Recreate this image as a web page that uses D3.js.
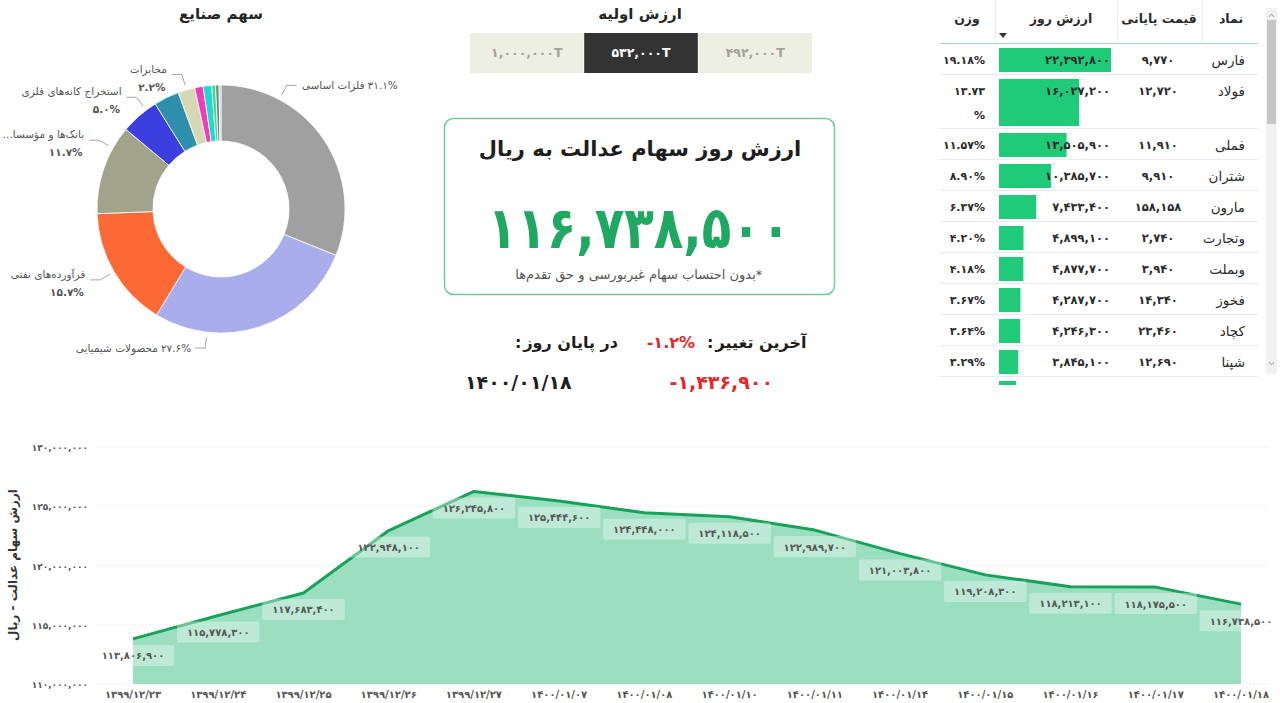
<!DOCTYPE html>
<html>
<head>
<meta charset="utf-8">
<script src="https://cdn.jsdelivr.net/npm/d3@7"></script>
<style>
  body { margin: 0; background: #fff; }
  svg { display: block; font-family: 'DejaVu Sans', sans-serif; }
</style>
</head>
<body>
<div id="dashboard"></div>
<script>
// industry share (donut)
const industryNames = [
  'فلزات اساسی', 'محصولات شیمیایی', 'فرآورده‌های نفتی', 'بانک‌ها و مؤسسات اعتباری',
  'استخراج کانه‌های فلزی', 'چند رشته‌ای صنعتی', 'مخابرات', 'خودرو و ساخت قطعات',
  'سیمان، آهک و گچ', 'حمل و نقل', 'بیمه', 'سایر',
];
const industryShares = [31.1, 27.6, 15.7, 11.7, 5.0, 3.3, 2.2, 1.1, 1.1, 0.5, 0.45, 0.25];

// initial value buttons
const initialValues = [1000000, 532000, 492000];
const selectedInitial = 532000;

// headline numbers
const currentValue = 116738500;
const lastChangePct = -1.2;
const lastChange = -1436900;
const lastDate = '1400/01/18';

// holdings table
const symbols = ['فارس', 'فولاد', 'فملی', 'شتران', 'مارون', 'وتجارت', 'وبملت', 'فخوز', 'کچاد', 'شپنا', 'شستا'];
const closePrices = [9770, 12720, 11910, 9910, 158158, 2740, 3940, 14340, 23460, 12690, 1050];
const dayValues = [22392800, 16027200, 13505900, 10385700, 7433400, 4899100, 4877700, 4287700, 4246300, 3845100, 3400000];
const weights = [19.18, 13.73, 11.57, 8.90, 6.37, 4.20, 4.18, 3.67, 3.64, 3.29, 2.91];

// daily value series
const dates = [
  '1399/12/23', '1399/12/24', '1399/12/25', '1399/12/26', '1399/12/27', '1400/01/07', '1400/01/08',
  '1400/01/10', '1400/01/11', '1400/01/14', '1400/01/15', '1400/01/16', '1400/01/17', '1400/01/18',
];
const fundValues = [
  113806900, 115778300, 117683400, 122948100, 126245800, 125444600, 124448000,
  124118500, 122989700, 121003800, 119208300, 118213100, 118175500, 116738500,
];
const yTicks = [110000000, 115000000, 120000000, 125000000, 130000000];

// ---- helpers
const faDigits = '۰۱۲۳۴۵۶۷۸۹';
const fa = (s) => String(s).replace(/\d/g, (d) => faDigits[d]);
const comma = d3.format(',');
const faNum = (v) => (v < 0 ? '-' : '') + fa(comma(Math.abs(v)));

// shift a text so its drawn right edge sits on xr
function alignRight(text, xr) {
  const b = text.node().getBBox();
  text.attr('x', +text.attr('x') + (xr - (b.x + b.width)));
  return text;
}

// pieces laid out right-to-left as separate texts, so no bidi guessing.
// align: 'right' | 'left' | 'middle' relative to x
function rtlText(parent, x, y, pieces, style, align = 'right', gap = 3) {
  const g = parent.append('g');
  let cur = 0;
  pieces.forEach((p) => {
    const t = g.append('text').attr('x', 0).attr('y', y).text(p);
    style(t);
    alignRight(t, cur);
    cur = t.node().getBBox().x - gap;
  });
  const b = g.node().getBBox();
  let dx = x - (b.x + b.width);
  if (align === 'left') dx = x - b.x;
  if (align === 'middle') dx = x - (b.x + b.width / 2);
  g.attr('transform', `translate(${dx},0)`);
  return g;
}

const W = 1280;
const H = 703;
const svg = d3.select('#dashboard').append('svg')
  .attr('width', W)
  .attr('height', H);

// ================= donut =================
function drawDonut() {
  const cx = 221;
  const cy = 209;
  const R = 124;
  const r = 68;
  const colors = ['#a0a0a0', '#a9adeb', '#fb6a35', '#a1a38b', '#3b3fe0', '#2d8fab',
    '#d6d8b5', '#ef3cb8', '#22d6d2', '#2de38f', '#8c7c70', '#85d3f0'];
  // which slices carry a label, where along the slice and how it is laid out
  const labels = [
    { i: 0, at: 0.25, mode: 'inline', dir: 1 },
    { i: 1, at: 0.75, mode: 'inline', dir: -1 },
    { i: 2, at: 0.5, mode: 'stack' },
    { i: 3, at: 0.75, mode: 'stack', maxChars: 15 },
    { i: 4, at: 0.72, mode: 'stack' },
    { i: 6, at: 0.5, mode: 'stack' },
  ];

  svg.append('text')
    .attr('x', cx).attr('y', 19)
    .attr('text-anchor', 'middle')
    .attr('font-size', 15).attr('font-weight', 'bold').attr('fill', '#252525')
    .text('سهم صنایع');

  const pie = d3.pie().sort(null).value((d) => d);
  const arcs = pie(industryShares);
  const arc = d3.arc().innerRadius(r).outerRadius(R);

  const g = svg.append('g').attr('transform', `translate(${cx},${cy})`);
  g.selectAll('path.slice')
    .data(arcs)
    .enter().append('path')
    .attr('class', 'slice')
    .attr('d', arc)
    .attr('fill', (d, i) => colors[i])
    .attr('stroke', '#fff')
    .attr('stroke-width', 0.8);

  const pt = (a, rad) => [Math.sin(a) * rad, -Math.cos(a) * rad];
  const small = (t) => t.attr('font-size', 10.5).attr('fill', '#555');
  const smallBold = (t) => small(t).attr('font-weight', 'bold');

  labels.forEach((l) => {
    const a = arcs[l.i];
    const ang = a.startAngle + (a.endAngle - a.startAngle) * l.at;
    const p0 = pt(ang, R + 5);
    const p1 = pt(ang, R + 16);
    const dir = l.mode === 'stack' ? -1 : l.dir;
    const p2 = [p1[0] + dir * 10, p1[1]];
    g.append('polyline')
      .attr('points', [p0, p1, p2].map((p) => p.join(',')).join(' '))
      .attr('fill', 'none')
      .attr('stroke', '#a6a6a6')
      .attr('stroke-width', 1);

    let name = [industryNames[l.i]];
    if (l.maxChars && industryNames[l.i].length > l.maxChars) {
      name = [industryNames[l.i].slice(0, l.maxChars), '...'];
    }
    const pct = fa(industryShares[l.i].toFixed(1)) + '%';

    if (l.mode === 'inline') {
      // percentage sits on the right, the name on its left
      rtlText(g, dir > 0 ? p2[0] + 5 : p2[0] - 4, p2[1] + 4, [pct, ...name], small, dir > 0 ? 'left' : 'right');
    } else {
      rtlText(g, p2[0] - 5, p2[1] - 2, name, small, 'right', 0);
      rtlText(g, p2[0] - 6, p2[1] + 16, [pct], smallBold, 'right');
    }
  });
}

// ================= headline block =================
function drawHeadline() {
  svg.append('text')
    .attr('x', 640).attr('y', 19)
    .attr('text-anchor', 'middle')
    .attr('font-size', 15).attr('font-weight', 'bold').attr('fill', '#252525')
    .text('ارزش اولیه');

  const bx = d3.scaleBand().domain(initialValues).range([470, 812]).paddingInner(0.005);
  const btn = svg.selectAll('g.btn')
    .data(initialValues)
    .enter().append('g')
    .attr('class', 'btn');
  btn.append('rect')
    .attr('x', (d) => bx(d)).attr('y', 33)
    .attr('width', bx.bandwidth()).attr('height', 40)
    .attr('fill', (d) => (d === selectedInitial ? '#333333' : '#eeefe3'));
  btn.append('text')
    .attr('x', (d) => bx(d) + bx.bandwidth() / 2).attr('y', 57)
    .attr('text-anchor', 'middle')
    .attr('font-size', 12.5).attr('font-weight', 'bold')
    .attr('fill', (d) => (d === selectedInitial ? '#fff' : '#a3a396'))
    .text((d) => faNum(d) + 'T');

  svg.append('rect')
    .attr('x', 444.5).attr('y', 118.5)
    .attr('width', 390).attr('height', 176)
    .attr('rx', 9)
    .attr('fill', '#fff')
    .attr('stroke', '#72c9a0').attr('stroke-width', 1.5);
  svg.append('text')
    .attr('x', 640).attr('y', 156)
    .attr('text-anchor', 'middle')
    .attr('font-size', 21).attr('font-weight', 'bold').attr('fill', '#1e1e1e')
    .text('ارزش روز سهام عدالت به ریال');
  svg.append('text')
    .attr('x', 639).attr('y', 248)
    .attr('text-anchor', 'middle')
    .attr('font-size', 58).attr('font-weight', 'bold').attr('fill', '#1fa862')
    .attr('textLength', 303).attr('lengthAdjust', 'spacingAndGlyphs')
    .text(faNum(currentValue));
  rtlText(svg, 639, 279, ['*', 'بدون احتساب سهام غیربورسی و حق تقدم‌ها'],
    (t) => t.attr('font-size', 13).attr('fill', '#555'), 'middle', 0);

  const bold = (size, color) => (t) => t.attr('font-size', size).attr('font-weight', 'bold').attr('fill', color);
  rtlText(svg, 807, 348, ['آخرین تغییر', ':'], bold(16, '#1e1e1e'), 'right', 1);
  rtlText(svg, 695, 348, [fa(lastChangePct.toFixed(1)) + '%'], bold(16, '#e8262b'));
  rtlText(svg, 618, 348, ['در پایان روز', ':'], bold(16, '#1e1e1e'), 'right', 1);
  rtlText(svg, 773, 389, [faNum(lastChange)], bold(19, '#e8262b'));
  rtlText(svg, 572, 389, [fa(lastDate)], bold(19, '#1e1e1e'));
}

// ================= holdings table =================
function drawTable() {
  const left = 940;
  const right = 1258;
  const headH = 44;
  const rowH = 31;
  const tallH = 54;
  const wrapped = [1]; // weight cell wraps onto two lines
  const cols = { weight: 985, barX: 999, value: 1110, price: 1158, symbol: 1245 };

  const clipId = 'tbl-clip';
  svg.append('clipPath').attr('id', clipId)
    .append('rect').attr('x', left - 5).attr('y', 0).attr('width', 330).attr('height', 385);
  const t = svg.append('g').attr('clip-path', `url(#${clipId})`);

  // header
  [995, 1117, 1202].forEach((x) => {
    t.append('line').attr('x1', x + 0.5).attr('x2', x + 0.5).attr('y1', 0).attr('y2', headH - 1)
      .attr('stroke', '#ececec');
  });
  const head = [['وزن', 967], ['ارزش روز', 1061], ['قیمت پایانی', 1159], ['نماد', 1231]];
  t.selectAll('text.head')
    .data(head)
    .enter().append('text')
    .attr('class', 'head')
    .attr('x', (d) => d[1]).attr('y', 23)
    .attr('text-anchor', 'middle')
    .attr('font-size', 12.5).attr('font-weight', 'bold').attr('fill', '#2a2a2a')
    .text((d) => d[0]);
  t.append('path')
    .attr('d', 'M999,33 L1007,33 L1003,38 Z')
    .attr('fill', '#333');
  t.append('line')
    .attr('x1', left).attr('x2', right).attr('y1', headH - 0.5).attr('y2', headH - 0.5)
    .attr('stroke', '#a9cbe6').attr('stroke-width', 1.2);

  // row layout
  const heights = symbols.map((s, i) => (wrapped.includes(i) ? tallH : rowH));
  const tops = [];
  let y = headH;
  heights.forEach((h) => { tops.push(y); y += h; });

  const xBar = d3.scaleLinear()
    .domain([0, d3.max(dayValues)])
    .range([0, cols.value + 1 - cols.barX]);

  const rows = t.selectAll('g.row')
    .data(symbols)
    .enter().append('g')
    .attr('class', 'row')
    .attr('transform', (d, i) => `translate(0,${tops[i]})`);

  rows.append('line')
    .attr('x1', left).attr('x2', right)
    .attr('y1', (d, i) => heights[i] - 0.5).attr('y2', (d, i) => heights[i] - 0.5)
    .attr('stroke', '#ebebeb');

  rows.append('rect')
    .attr('x', cols.barX)
    .attr('y', 4)
    .attr('width', (d, i) => xBar(dayValues[i]))
    .attr('height', (d, i) => heights[i] - 7)
    .attr('fill', '#1fca78');

  rows.append('text')
    .attr('x', cols.value).attr('y', 20)
    .attr('text-anchor', 'end')
    .attr('font-size', 11.5).attr('font-weight', 'bold').attr('fill', '#2b2b2b')
    .text((d, i) => faNum(dayValues[i]));

  rows.append('text')
    .attr('x', cols.price).attr('y', 20)
    .attr('text-anchor', 'middle')
    .attr('font-size', 11.5).attr('font-weight', 'bold').attr('fill', '#2b2b2b')
    .text((d, i) => faNum(closePrices[i]));

  rows.append('text')
    .attr('x', cols.symbol).attr('y', 21)
    .attr('text-anchor', 'end')
    .attr('font-size', 13.5).attr('fill', '#2b2b2b')
    .text((d) => d);

  rows.each(function (d, i) {
    const row = d3.select(this);
    const w = fa(weights[i].toFixed(2));
    const lines = wrapped.includes(i) ? [w, '%'] : [w + '%'];
    lines.forEach((ln, k) => {
      row.append('text')
        .attr('x', cols.weight).attr('y', 20 + k * 24)
        .attr('text-anchor', 'end')
        .attr('font-size', 11).attr('font-weight', 'bold').attr('fill', '#2b2b2b')
        .text(ln);
    });
  });

  // scrollbar
  svg.append('rect').attr('x', 1266).attr('y', 8).attr('width', 11).attr('height', 366).attr('fill', '#f1f1f1');
  svg.append('rect').attr('x', 1267).attr('y', 20).attr('width', 9).attr('height', 104).attr('fill', '#c6c6c6');
  svg.append('path').attr('d', 'M1269,17 L1271.5,14 L1274,17').attr('fill', 'none').attr('stroke', '#999');
  svg.append('path').attr('d', 'M1269,362 L1271.5,365 L1274,362').attr('fill', 'none').attr('stroke', '#999');
}

// ================= area chart =================
function drawArea() {
  const x = d3.scalePoint().domain(dates).range([133, 1241]);
  const y = d3.scaleLinear().domain([110000000, 130000000]).range([684, 447]);

  const grid = svg.append('g');
  grid.selectAll('line')
    .data(yTicks)
    .enter().append('line')
    .attr('x1', 97).attr('x2', 1268)
    .attr('y1', (d) => y(d)).attr('y2', (d) => y(d))
    .attr('stroke', '#d6d6d6')
    .attr('stroke-dasharray', '1,3');
  grid.selectAll('text')
    .data(yTicks)
    .enter().append('text')
    .attr('x', 88).attr('y', (d) => y(d) + 4)
    .attr('text-anchor', 'end')
    .attr('font-size', 9).attr('font-weight', 'bold').attr('fill', '#555')
    .text((d) => faNum(d));

  svg.append('text')
    .attr('transform', 'translate(17,565) rotate(-90)')
    .attr('text-anchor', 'middle')
    .attr('font-size', 12).attr('font-weight', 'bold').attr('fill', '#333')
    .text('ارزش سهام عدالت - ریال');

  const area = d3.area()
    .x((d, i) => x(dates[i]))
    .y0(y(110000000))
    .y1((d) => y(d));
  const line = d3.line()
    .x((d, i) => x(dates[i]))
    .y((d) => y(d));

  svg.append('path')
    .datum(fundValues)
    .attr('d', area)
    .attr('fill', '#9bdec0');
  svg.append('path')
    .datum(fundValues)
    .attr('d', line)
    .attr('fill', 'none')
    .attr('stroke', '#17a25c')
    .attr('stroke-width', 3)
    .attr('stroke-linejoin', 'round');

  const labels = svg.selectAll('g.dlabel')
    .data(fundValues)
    .enter().append('g')
    .attr('class', 'dlabel')
    .attr('transform', (d, i) => `translate(${x(dates[i])},${y(d) + 6})`);
  labels.append('rect')
    .attr('fill', '#fff').attr('fill-opacity', 0.35)
    .attr('rx', 2);
  labels.append('text')
    .attr('x', 0).attr('y', 14.5)
    .attr('text-anchor', 'middle')
    .attr('font-size', 10).attr('font-weight', 'bold').attr('fill', '#575757')
    .text((d) => faNum(d));
  labels.each(function () {
    const g = d3.select(this);
    const w = g.select('text').node().getComputedTextLength() + 20;
    g.select('rect').attr('x', -w / 2).attr('y', 0).attr('width', w).attr('height', 21);
  });

  svg.selectAll('text.xlab')
    .data(dates)
    .enter().append('text')
    .attr('class', 'xlab')
    .attr('x', (d) => x(d)).attr('y', 698)
    .attr('text-anchor', 'middle')
    .attr('font-size', 10).attr('font-weight', 'bold').attr('fill', '#555')
    .text((d) => fa(d));
}

drawDonut();
drawHeadline();
drawTable();
drawArea();
</script>
</body>
</html>
